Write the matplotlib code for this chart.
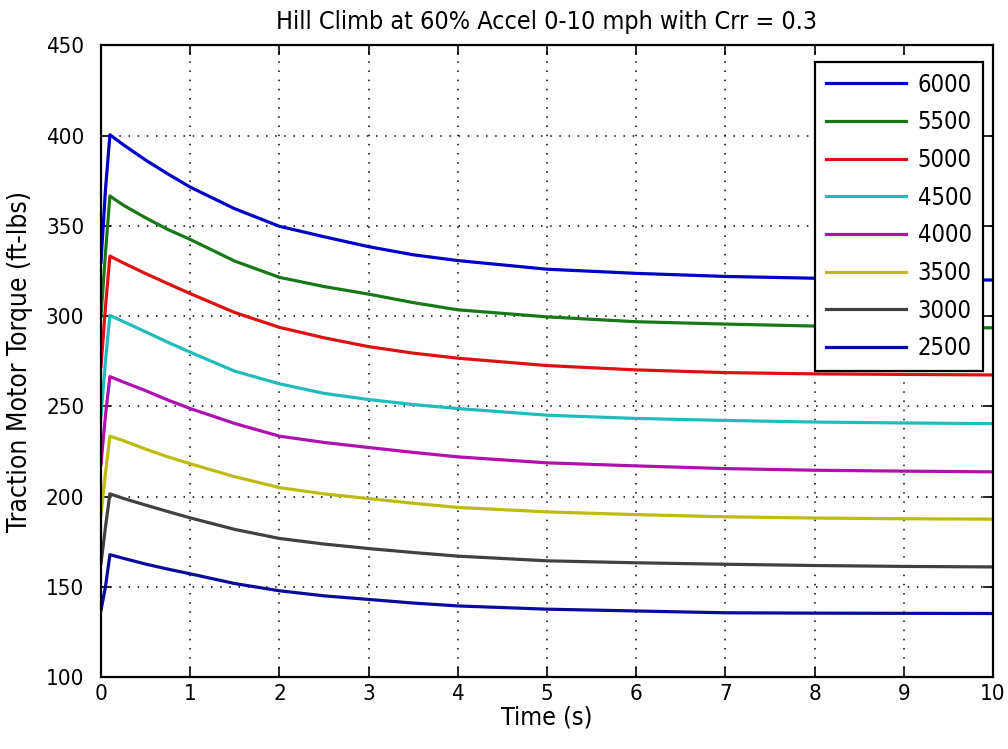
import matplotlib
matplotlib.use("Agg")
import matplotlib.pyplot as plt
import numpy as np

plt.rcParams['font.family'] = ['Liberation Sans Narrow', 'DejaVu Sans']
plt.rcParams['font.stretch'] = 'condensed'

time_s = [0.0, 0.05, 0.1, 0.25, 0.5, 0.75, 1, 1.5, 2, 2.5, 3, 3.5, 4, 5, 6, 7, 8, 9, 10]

labels = ["6000", "5500", "5000", "4500", "4000", "3500", "3000", "2500"]

torque_6000 = [330, 370, 400.5, 395.0, 386.5, 378.8, 371.5, 359.5, 349.8, 344.0, 338.5, 334.0, 330.8, 326.0, 323.7, 322.0, 321.0, 320.4, 320.0]
torque_5500 = [300, 335, 366.6, 361.5, 354.5, 348.0, 342.5, 330.5, 321.5, 316.4, 312.2, 307.5, 303.5, 299.6, 296.9, 295.6, 294.5, 293.9, 293.5]
torque_5000 = [272, 305, 333.3, 329.5, 323.6, 318.0, 312.5, 302.0, 293.8, 288.0, 283.1, 279.5, 276.7, 272.6, 270.2, 268.7, 268.0, 267.7, 267.4]
torque_4500 = [245, 275, 300.4, 297.0, 291.3, 285.5, 280.0, 269.5, 262.5, 257.2, 253.8, 251.0, 248.8, 245.1, 243.3, 242.2, 241.3, 240.8, 240.4]
torque_4000 = [218, 245, 266.5, 263.5, 258.7, 253.5, 248.8, 240.5, 233.5, 230.0, 227.2, 224.5, 222.0, 218.7, 217.0, 215.5, 214.6, 214.1, 213.7]
torque_3500 = [190, 213, 233.5, 231.0, 226.3, 222.0, 218.2, 211.0, 205.0, 201.5, 198.9, 196.3, 194.0, 191.5, 190.0, 188.8, 188.1, 187.7, 187.5]
torque_3000 = [163, 183, 201.5, 199.0, 195.3, 191.7, 188.2, 181.8, 176.8, 173.7, 171.2, 169.0, 167.0, 164.4, 163.3, 162.5, 161.8, 161.3, 161.0]
torque_2500 = [137, 150, 167.8, 165.8, 162.6, 159.8, 157.2, 151.8, 147.8, 145.0, 143.0, 141.0, 139.4, 137.6, 136.6, 135.6, 135.4, 135.3, 135.2]

series = [torque_6000, torque_5500, torque_5000, torque_4500,
          torque_4000, torque_3500, torque_3000, torque_2500]
colors = ['#0000c8', '#187818', '#dd1111', '#20bcbc',
          '#b010b0', '#bcbc10', '#404040', '#0a0a9c']

fig = plt.figure(figsize=(10.08, 7.49), dpi=100)
ax = fig.add_axes([0.1002, 0.0961, 0.8848, 0.8432])

for y, c, lab in zip(series, colors, labels):
    ax.plot(time_s, y, color=c, lw=2.3, label=lab)

ax.set_xlim(0, 10)
ax.set_ylim(100, 450)
ax.set_xticks(np.arange(0, 11, 1))
ax.set_yticks(np.arange(100, 451, 50))
ax.grid(True, color='black', linestyle=(0, (1, 5)), linewidth=1.1)
ax.tick_params(direction='in', top=True, right=True, length=7, width=1.2,
               labelsize=16)
ax.tick_params(axis='y', pad=12)
ax.tick_params(axis='x', pad=5)
for s in ax.spines.values():
    s.set_linewidth(1.6)

ax.set_xlabel("Time (s)", fontsize=18, labelpad=1)
ax.set_ylabel("Traction Motor Torque (ft-lbs)", fontsize=19, labelpad=9)
ax.set_title("Hill Climb at 60% Accel 0-10 mph with Crr = 0.3", fontsize=18, pad=12)

leg = ax.legend(loc='upper right', bbox_to_anchor=(0.9885, 0.974), borderaxespad=0,
                fontsize=17, handlelength=3.4, handletextpad=0.5, labelspacing=0.58,
                borderpad=0.45, fancybox=False, framealpha=1, edgecolor='black')
leg.get_frame().set_linewidth(1.6)

fig.savefig("out.png", dpi=100)
